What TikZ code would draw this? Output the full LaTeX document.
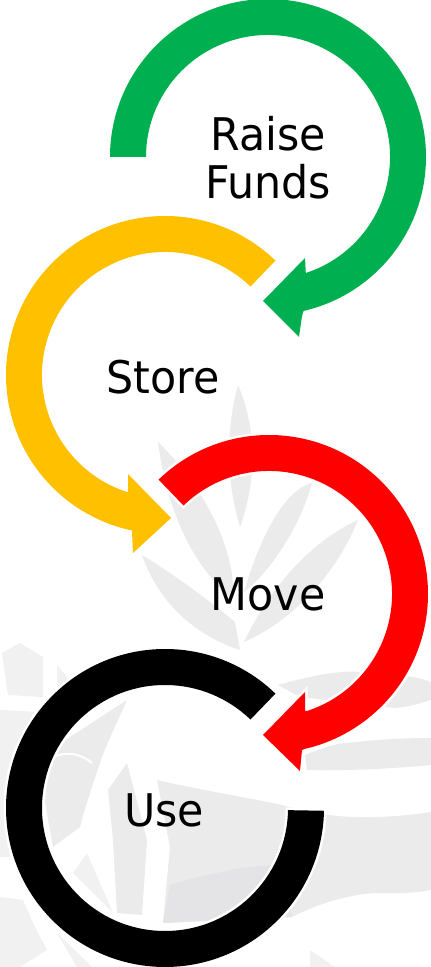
\documentclass[tikz,border=0pt]{standalone}
\usepackage{fontspec}
\usepackage{xcolor}
\setmainfont{DejaVu Sans}[FakeStretch=0.95]
\definecolor{fundgreen}{HTML}{00B050}
\definecolor{storeyellow}{HTML}{FFC000}
\definecolor{markgrey}{HTML}{EBEBEC}
\definecolor{marklight}{HTML}{F1F1F1}
\definecolor{markdark}{HTML}{E4E4E6}
\tikzset{
  ring/.style={preaction={draw=white, line width=5pt, line join=miter}},
  label text/.style={font=\fontsize{45}{48}\selectfont, align=center, text=black}
}

\begin{document}
\begin{tikzpicture}[x=1pt,y=1pt]
\useasboundingbox (0,0) rectangle (431,967);
\fill[white] (0,0) rectangle (431,967);

% watermark leaves behind the rings
\fill[markgrey] (238,582) .. controls (224,530) and (228,480) .. (240,440) .. controls (254,480) and (260,530) .. cycle;
\fill[markgrey] (158,525) .. controls (168,450) and (195,400) .. (232,368) .. controls (238,400) and (215,470) .. cycle;
\fill[markgrey] (312,484) .. controls (285,478) and (260,430) .. (244,375) .. controls (270,395) and (300,440) .. cycle;
\fill[markgrey] (358,447) .. controls (320,430) and (275,390) .. (244,325) .. controls (290,345) and (335,390) .. cycle;
\fill[markgrey] (142,412) .. controls (170,395) and (205,370) .. (235,345) -- (240,317) .. controls (200,330) and (160,360) .. cycle;

% watermark bands on the right
\fill[markgrey] (278,282) .. controls (305,290) and (340,297) .. (358,295) .. controls (385,293) and (415,292) .. (431,285)
  -- (431,267) .. controls (415,262) and (405,260) .. (395,259) -- (300,270) -- cycle;
\fill[markgrey] (305,212) .. controls (320,218) and (335,224) .. (348,224) .. controls (380,228) and (410,229) .. (431,229)
  -- (431,202) .. controls (390,198) and (340,196) .. (307,197) -- cycle;
\fill[markgrey] (157,187) .. controls (195,178) and (245,170) .. (282,162) .. controls (300,157) and (315,153) .. (328,152)
  .. controls (360,148) and (400,150) .. (431,155) -- (431,77) .. controls (410,73) and (395,74) .. (375,74)
  .. controls (345,72) and (315,62) .. (292,50) -- (163,44) -- (170,120) -- cycle;
\fill[markdark] (170,82) .. controls (190,88) and (205,92) .. (217,94) .. controls (240,100) and (265,102) .. (283,102)
  -- (292,50) -- (163,44) -- cycle;

% watermark figure on the left
\fill[marklight] (2,314) -- (20,324) -- (43,310) -- (43,270) -- (8,272) -- cycle;
\fill[marklight] (57,302) -- (75,280) -- (57,272) -- cycle;
\fill[marklight] (0,257) -- (37,255) -- (15,212) -- (10,110) -- (0,110) -- cycle;
\fill[marklight] (0,70) -- (23,67) -- (33,44) -- (47,17) -- (20,0) -- (0,0) -- cycle;
\fill[marklight] (57,34) -- (77,0) -- (92,0) -- cycle;
\fill[marklight] (73,94) -- (113,54) -- (87,114) -- cycle;
\fill[markgrey] (127,267) .. controls (115,240) and (105,220) .. (100,204) .. controls (92,180) and (85,160) .. (80,140)
  -- (53,120) -- (45,165) -- (50,217) -- cycle;
\draw[white, line width=2pt] (46,205) .. controls (62,218) and (80,214) .. (92,204);
\fill[markgrey] (127,204) -- (147,127) -- (142,52) -- (117,54) -- (113,127) -- (108,177) -- cycle;
\fill[marklight] (310,17) -- (335,0) -- (310,0) -- cycle;

% raise funds ring
\coordinate (fundcentre) at (268,810);
\fill[ring, fundgreen] (110,810) arc[start angle=180, end angle=-77, radius=158pt]
  -- (302,651) -- (299,630) -- (263,666) -- (305,709) -- (306,690)
  -- ([shift=(fundcentre)]-72:122) arc[start angle=-72, end angle=180, radius=122pt] -- cycle;

% store ring
\coordinate (storecentre) at (165,592);
\fill[ring, storeyellow] ([shift=(storecentre)]46:159) arc[start angle=46, end angle=258, radius=159pt]
  -- (132,435) -- (133,414) -- (171,449) -- (128,493) -- (128,474)
  -- ([shift=(storecentre)]253:123) arc[start angle=253, end angle=46, radius=123pt] -- cycle;

% move ring
\coordinate (movecentre) at (269,373);
\fill[ring, red] ([shift=(movecentre)]134:159) arc[start angle=134, end angle=-77, radius=159pt]
  -- (302,217) -- (300,196) -- (263,232) -- (305,275) -- (305,256)
  -- ([shift=(movecentre)]-72:123) arc[start angle=-72, end angle=134, radius=123pt] -- cycle;

% use ring
\coordinate (usecentre) at (165,159);
\fill[ring, black] ([shift=(usecentre)]46:159) arc[start angle=46, end angle=359, radius=159pt]
  -- ([shift=(usecentre)]359:123) arc[start angle=359, end angle=46, radius=123pt] -- cycle;

% labels
\node[label text] (raise) at (268,809) {Raise\\Funds};
\node[label text] (store) at (163,590) {Store};
\node[label text] (move) at (268,373) {Move};
\node[label text] (use) at (164,157) {Use};
\end{tikzpicture}
\end{document}
